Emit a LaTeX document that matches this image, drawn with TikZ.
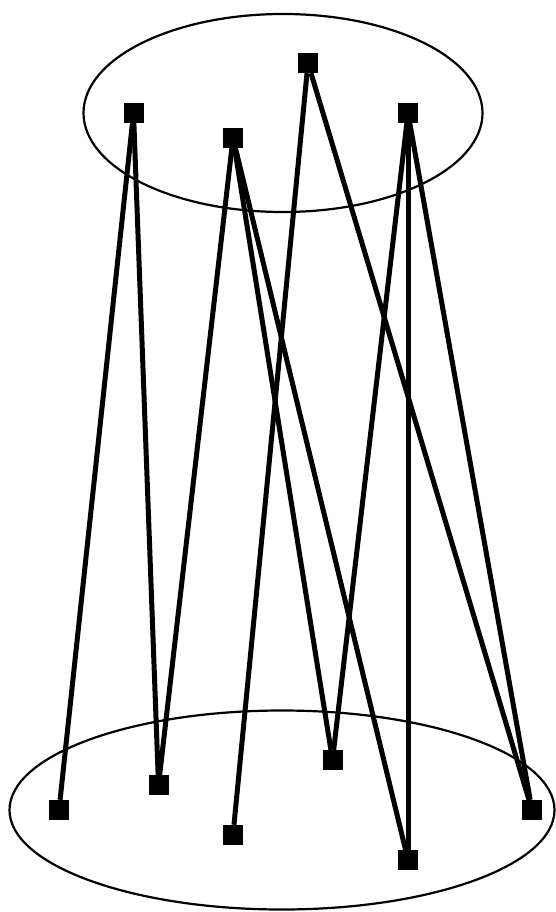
\documentclass[tikz,border=0pt]{standalone}
\begin{document}
\begin{tikzpicture}[
    x=1pt, y=-1pt,
    vertex/.style={draw=none, fill=black, minimum size=20pt, inner sep=0pt},
    edge/.style={line width=5pt},
    rim/.style={line width=2.2pt}
]
\useasboundingbox (0,0) rectangle (556,912);
\draw[rim] (283,113) ellipse [x radius=199.5, y radius=99];
\draw[rim] (282,810) ellipse [x radius=272.5, y radius=99.5];

\node[vertex] (t1) at (133.5,113) {};
\node[vertex] (t2) at (233,138) {};
\node[vertex] (t3) at (308,63) {};
\node[vertex] (t4) at (408,113) {};

\node[vertex] (b1) at (59,810) {};
\node[vertex] (b2) at (158.5,785) {};
\node[vertex] (b3) at (233,835) {};
\node[vertex] (b4) at (332.5,760) {};
\node[vertex] (b5) at (408,860) {};
\node[vertex] (b6) at (532,810) {};

\draw[edge] (t1) -- (b1);
\draw[edge] (t1) -- (b2);
\draw[edge] (t2) -- (b2);
\draw[edge] (t2) -- (b4);
\draw[edge] (t2) -- (b5);
\draw[edge] (t3) -- (b3);
\draw[edge] (t3) -- (b6);
\draw[edge] (t4) -- (b4);
\draw[edge] (t4) -- (b5);
\draw[edge] (t4) -- (b6);
\end{tikzpicture}
\end{document}
